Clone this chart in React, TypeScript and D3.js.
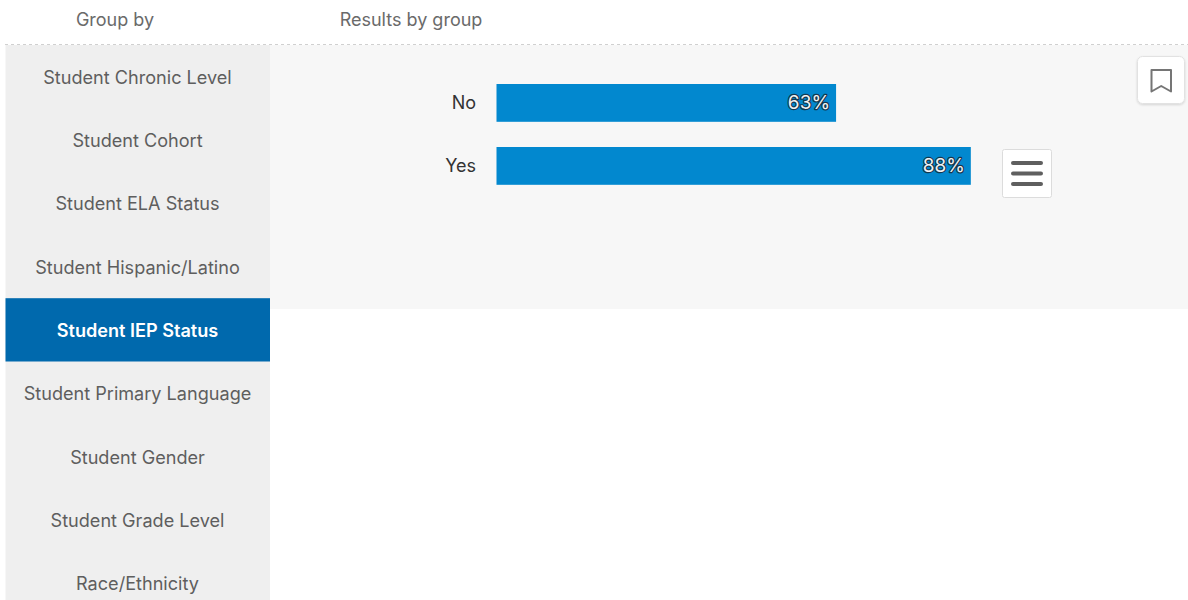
import React from "react";
import * as d3 from "d3";

// Response rate by IEP status, plus the grouping menu beside it.
const groupOptions = [
  "Student Chronic Level",
  "Student Cohort",
  "Student ELA Status",
  "Student Hispanic/Latino",
  "Student IEP Status",
  "Student Primary Language",
  "Student Gender",
  "Student Grade Level",
  "Race/Ethnicity",
];
const selectedGroup = "Student IEP Status";
const categories = ["No", "Yes"];
const percentValues = [63, 88];

const WIDTH = 1188;
const HEIGHT = 600;
const FONT = "Inter, 'Noto Sans', sans-serif";

export default function App() {
  const x = d3.scaleLinear().domain([0, 100]).range([496.5, 1035.5]);
  const y = d3.scaleBand().domain(categories).range([71.4, 197.4]).paddingInner(0.4).paddingOuter(0.2);
  const menuY = d3.scaleBand().domain(groupOptions).range([45, 45 + 63.3 * groupOptions.length]);
  const pct = d3.format("d");

  return (
    <svg
      width={WIDTH}
      height={HEIGHT}
      style={{ position: "absolute", left: 0, top: 0, display: "block", background: "#fff" }}
      fontFamily={FONT}
    >
      <defs>
        <filter id="card" x="-20%" y="-20%" width="140%" height="140%">
          <feDropShadow dx="0" dy="1" stdDeviation="1.2" floodColor="#000" floodOpacity="0.14" />
        </filter>
      </defs>

      {/* Column headings */}
      <text x={115} y={26} textAnchor="middle" fontSize={18} fill="#6a6a6a">Group by</text>
      <text x={411} y={26} textAnchor="middle" fontSize={18} fill="#6a6a6a">Results by group</text>

      {/* Chart panel and menu background */}
      <rect x={270} y={45} width={918} height={264} fill="#f7f7f7" />
      <rect x={5.5} y={45} width={264.5} height={555} fill="#efefef" />
      <line x1={5} x2={1188} y1={44.5} y2={44.5} stroke="#d0d0d0" strokeWidth={1.2} strokeDasharray="3 3" />

      {/* Grouping menu */}
      {groupOptions.map((g) => {
        const active = g === selectedGroup;
        const top = menuY(g)!;
        return (
          <g key={g}>
            {active && <rect x={5.5} y={top} width={264.5} height={menuY.bandwidth()} fill="#0069ad" />}
            <text
              x={137.5}
              y={top + menuY.bandwidth() / 2 + 2.2}
              textAnchor="middle"
              dominantBaseline="middle"
              fontSize={18.1}
              fontWeight={active ? 600 : 400}
              fill={active ? "#ffffff" : "#5e5e5e"}
            >
              {g}
            </text>
          </g>
        );
      })}

      {/* Bars with category and value labels */}
      {categories.map((c, i) => {
        const barY = y(c)!;
        const h = y.bandwidth();
        const end = x(percentValues[i]);
        return (
          <g key={c}>
            <rect x={x(0)} y={barY} width={end - x(0)} height={h} fill="#0288cf" />
            <text x={476} y={barY + h / 2 + 1.5} textAnchor="end" dominantBaseline="middle" fontSize={18} fill="#333">
              {c}
            </text>
            <text
              x={end - 6}
              y={barY + h / 2 + 0.5}
              textAnchor="end"
              dominantBaseline="middle"
              fontSize={19}
              fill="#f2f2f2"
              stroke="#14384f"
              strokeWidth={2.4}
              paintOrder="stroke"
              strokeLinejoin="round"
            >
              {pct(percentValues[i])}%
            </text>
          </g>
        );
      })}

      {/* Bookmark button */}
      <rect x={1137.5} y={56.5} width={47} height={47} rx={5} fill="#fff" stroke="#e2e2e2" filter="url(#card)" />
      <path d="M1151.5 70 H1171 V91.5 L1161.2 86 L1151.5 91.5 Z" fill="none" stroke="#757575" strokeWidth={2} strokeLinejoin="round" />

      {/* Menu button */}
      <rect x={1002.5} y={149.5} width={49} height={48} rx={2} fill="#fff" stroke="#dcdcdc" />
      {[163, 173.5, 184].map((ly) => (
        <line key={ly} x1={1013} x2={1041} y1={ly} y2={ly} stroke="#5f5f5f" strokeWidth={4} strokeLinecap="round" />
      ))}
    </svg>
  );
}
